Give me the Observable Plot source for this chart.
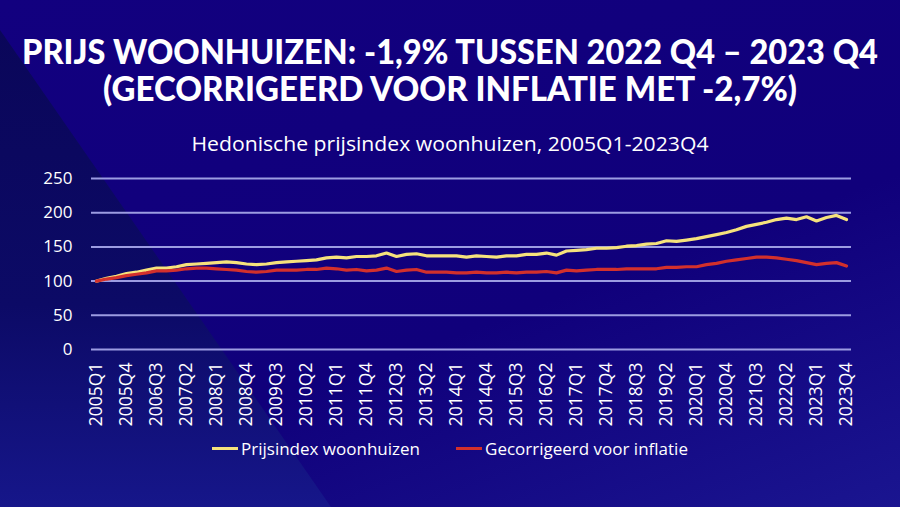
<!DOCTYPE html>
<html><head><meta charset="utf-8">
<script src="https://cdn.jsdelivr.net/npm/d3@7"></script>
<script src="https://cdn.jsdelivr.net/npm/@observablehq/plot@0.6"></script>
<style>
html,body{margin:0;padding:0;}
body{width:900px;height:507px;overflow:hidden;position:relative;background:linear-gradient(160deg,#12007f 0%,#10007b 60%,#1a1590 100%);font-family:"Open Sans",sans-serif;color:#fff;}
#shade{position:absolute;left:0;top:0;width:900px;height:507px;background:linear-gradient(180deg,#0a0658 0%,#0c0a66 60%,#16168a 100%);clip-path:polygon(0 30px,331px 507px,0 507px);}
.title{position:absolute;left:0;width:900px;height:36px;font-family:Lato,"Open Sans",sans-serif;font-weight:900;white-space:nowrap;line-height:1;}
.title span{position:absolute;left:450px;top:0;display:block;white-space:nowrap;}
#t1{top:34px;}
#t2{top:71px;}
#sub{position:absolute;top:132px;left:0;width:900px;height:26px;white-space:nowrap;line-height:1.2;}
#sub span{position:absolute;left:450px;top:0;display:block;white-space:nowrap;}
#chart{position:absolute;left:0;top:160px;}
#legend{position:absolute;top:437px;left:0;width:900px;display:flex;justify-content:center;align-items:center;font-size:17px;white-space:nowrap;}
.sw{display:inline-block;width:26px;height:3px;margin-right:3px;}
.item{display:flex;align-items:center;}
</style></head>
<body>
<div id="shade"></div>
<div class="title" id="t1"><span>PRIJS WOONHUIZEN: -1,9% TUSSEN 2022 Q4 – 2023 Q4</span></div>
<div class="title" id="t2"><span>(GECORRIGEERD VOOR INFLATIE MET -2,7%)</span></div>
<div id="sub"><span>Hedonische prijsindex woonhuizen, 2005Q1-2023Q4</span></div>
<div id="chart"></div>
<div id="legend">
  <div class="item" style="margin-right:36px"><span class="sw" style="background:#f6e27c"></span><span>Prijsindex woonhuizen</span></div>
  <div class="item"><span class="sw" style="background:#d3302c"></span><span>Gecorrigeerd voor inflatie</span></div>
</div>
<script>
const years = d3.range(2005, 2024);
const quarters = years.flatMap(y => [1,2,3,4].map(q => `${y}Q${q}`));
const prijsindex = [
  100,104,107,111, 113,116,119,119, 121,124,125,126, 127,128,127,125,
  124,125,127,128, 129,130,131,134, 135,134,136,136, 137,141,136,139,
  140,137,137,137, 137,135,137,136, 135,137,137,139, 139,141,138,144,
  145,146,148,148, 149,151,152,154, 155,159,158,160, 162,165,168,171,
  175,180,183,186, 190,192,190,194, 188,193,196,190
];
const gecorrigeerd = [
  100,103,105,108, 110,112,115,115, 116,118,119,119, 118,117,116,114,
  113,114,116,116, 116,117,117,119, 118,116,117,115, 116,119,114,116,
  117,113,113,113, 112,112,113,112, 112,113,112,113, 113,114,112,116,
  115,116,117,117, 117,118,118,118, 118,120,120,121, 121,124,126,129,
  131,133,135,135, 134,132,130,127, 124,126,127,122
];
const yTicks = [0,50,100,150,200,250];
const xTickLabels = quarters.filter((d,i) => i % 3 === 0);

const seriesA = quarters.map((q,i) => ({q, v: prijsindex[i]}));
const seriesB = quarters.map((q,i) => ({q, v: gecorrigeerd[i]}));

const chart = Plot.plot({
  width: 900, height: 270,
  marginLeft: 91, marginRight: 49, marginTop: 18, marginBottom: 81,
  style: {background: "transparent", color: "#fff", fontFamily: "Open Sans, sans-serif", overflow: "visible"},
  x: {type: "point", domain: quarters, padding: 0.5},
  y: {domain: [0, 250]},
  marks: [
    Plot.ruleY(yTicks, {stroke: "#9c9ce2", strokeWidth: 2}),
    Plot.axisY(yTicks, {tickSize: 0, tickPadding: 19, fontSize: 17, fill: "#fff", label: null}),
    Plot.axisX(xTickLabels, {tickSize: 0, tickRotate: -90, tickPadding: 13, fontSize: 17.5, fill: "#fff", label: null}),
    Plot.line(seriesA, {x: "q", y: "v", stroke: "#f6e27c", strokeWidth: 3.2}),
    Plot.line(seriesB, {x: "q", y: "v", stroke: "#d3302c", strokeWidth: 3.2})
  ]
});
document.getElementById("chart").appendChild(chart);

function fit(sel, target, size) {
  const s = document.querySelector(sel);
  s.style.fontSize = size + "px";
  s.style.transform = "none";
  const w = s.getBoundingClientRect().width;
  s.style.transformOrigin = "0 0";
  s.style.transform = `translateX(${-target / 2}px) scaleX(${target / w})`;
}
fit("#t1 span", 856, 34);
fit("#t2 span", 694, 34);
fit("#sub span", 517, 20);
</script>
</body></html>
